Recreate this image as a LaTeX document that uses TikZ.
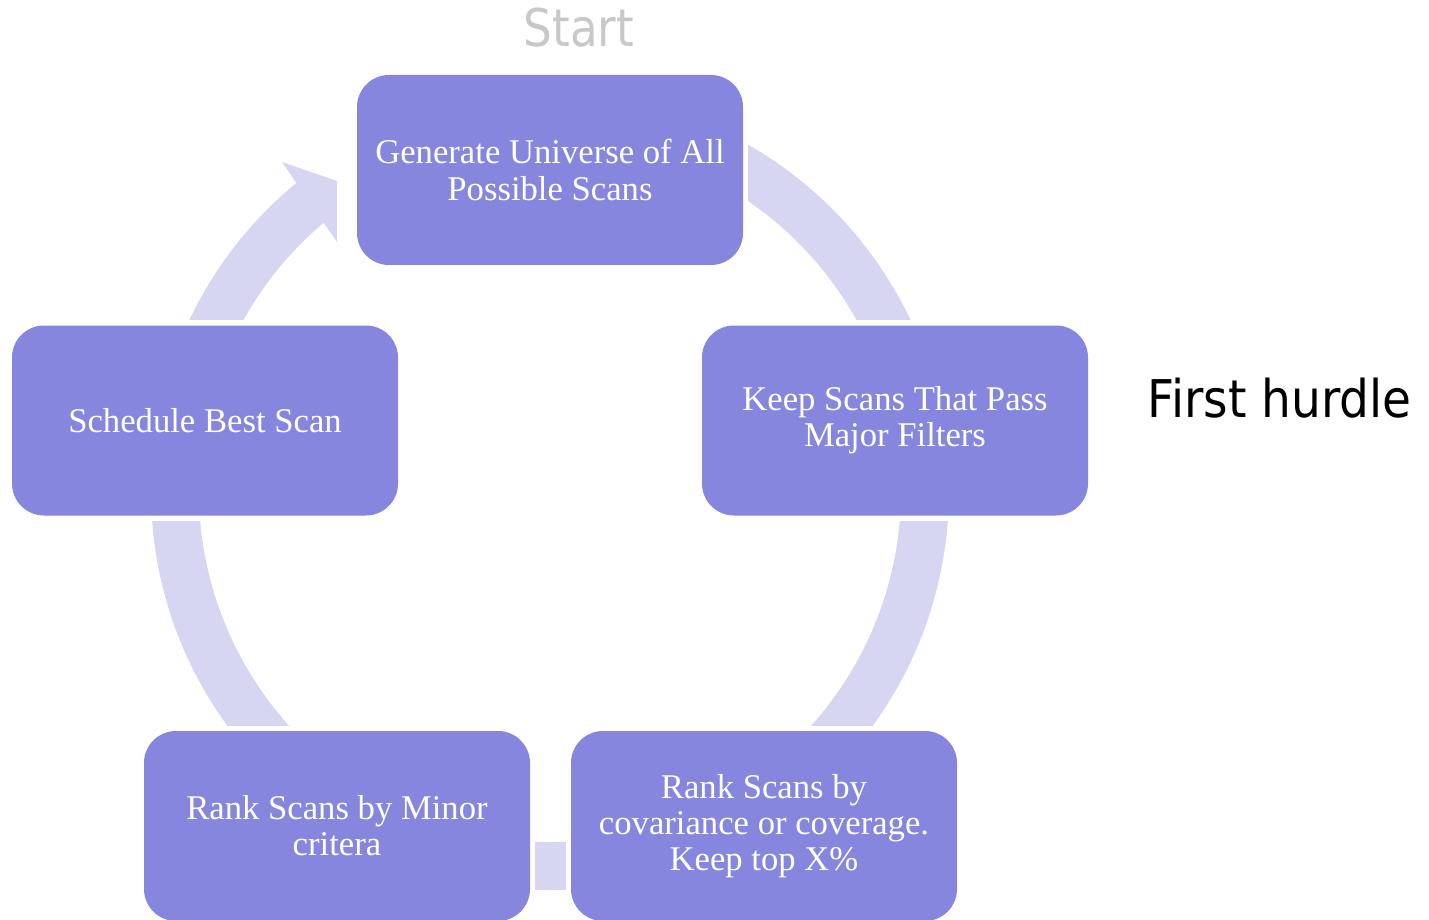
\documentclass[tikz,border=0pt]{standalone}
\usepackage{fontspec}
\setmainfont{Liberation Serif}
\newfontfamily\labelsans[FakeStretch=0.87]{DejaVu Sans}
\newfontfamily\hurdlesans[FakeStretch=0.905]{DejaVu Sans}
\usetikzlibrary{backgrounds}
\definecolor{stepfill}{RGB}{134,134,222}
\definecolor{cyclefill}{RGB}{214,214,243}
\definecolor{startgray}{RGB}{200,200,200}
\tikzset{
  stepbox/.style={rectangle, rounded corners=24pt, fill=stepfill, text=white,
    minimum width=289.5pt, minimum height=142.5pt, inner sep=0pt, align=center,
    font=\fontsize{26}{27.2}\selectfont},
  sidelabel/.style={anchor=base, inner sep=0pt},
  clearance/.style={fill=white},
  band/.style={fill=cyclefill},
}
\begin{document}
\begin{tikzpicture}[x=0.75pt,y=-0.75pt]
\useasboundingbox (0,0) rectangle (1429,920);
\coordinate (c) at (550,491);

% process steps
\node[stepbox] (gen)   at (550,170)   {Generate Universe of All\\Possible Scans};
\node[stepbox] (keep)  at (895,420.5) {Keep Scans That Pass\\Major Filters};
\node[stepbox] (cov)   at (764,826)   {Rank Scans by\\covariance or coverage.\\Keep top X\%};
\node[stepbox] (minor) at (337,826)   {Rank Scans by Minor\\critera};
\node[stepbox] (sched) at (205,420.5) {Schedule Best Scan};

% labels
\node[sidelabel, text=startgray, font=\labelsans\fontsize{39}{45}\selectfont] (start) at (579,47) {Start};
\node[sidelabel, text=black, font=\hurdlesans\fontsize{39}{45}\selectfont] (hurdle) at (1279.5,417) {First hurdle};

\begin{pgfonlayer}{background}
  % circular band running round the cycle
  \fill[band] ([shift={(231:399)}]c) arc[start angle=231, end angle=-75, radius=399]
    -- ([shift={(-75:351)}]c) arc[start angle=-75, end angle=231, radius=351] -- cycle;
  % arrow head pointing at the first step
  \fill[band] (282,162) -- (337,181) -- (337,242) -- cycle;
  % white margins round every step
  \foreach \n in {gen,keep,cov,minor,sched}
    \fill[clearance] ([shift={(-5,-5)}]\n.north west) rectangle ([shift={(5,5)}]\n.south east);
\end{pgfonlayer}
\end{tikzpicture}
\end{document}
